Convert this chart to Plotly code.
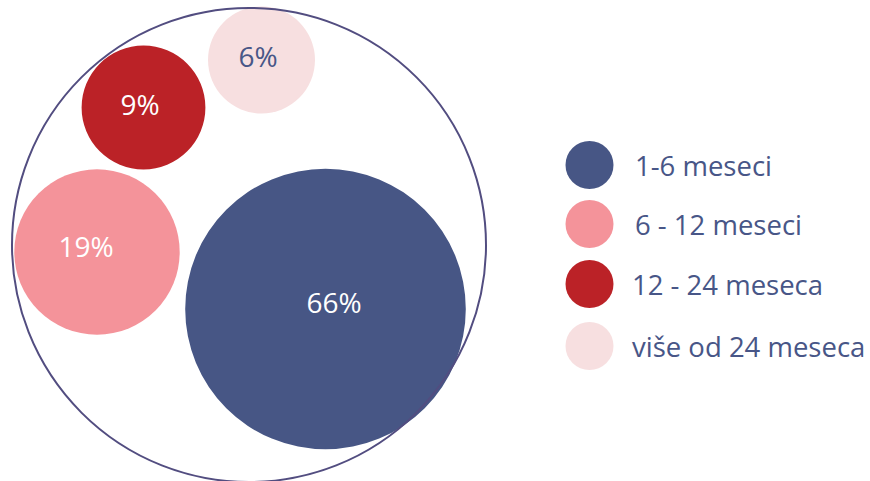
import numpy as np
import plotly.graph_objects as go

# Share of respondents by duration
categories = ["1-6 meseci", "6 - 12 meseci", "12 - 24 meseca", "više od 24 meseca"]
values = [66, 19, 9, 6]
value_labels = [f"{v}%" for v in values]

# Layout (pixel space, y grows downwards)
bubble_x = [325.5, 97, 143.5, 261.5]
bubble_y = [309, 252, 107.5, 60]
label_x = [334, 86, 140, 258]
label_y = [306, 250, 108, 60]
colors = ["#475685", "#f4939a", "#bb2227", "#f7dfe0"]
label_colors = ["#ffffff", "#ffffff", "#ffffff", "#485687"]
text_blue = "#485687"

def bubble_radius(v):
    return 16 + 15.3 * np.sqrt(v)

radii = [bubble_radius(v) for v in values]

outer_cx, outer_cy, outer_r = 249, 245, 237

legend_marker_x = 589.5
legend_text_x = [633, 633, 630, 630]
legend_y = [165, 224, 284, 346]

W, H = 870, 481
FONT = "Open Sans"

fig = go.Figure()

for i in range(len(values)):
    fig.add_shape(
        type="circle", xref="x", yref="y",
        x0=bubble_x[i] - radii[i], x1=bubble_x[i] + radii[i],
        y0=bubble_y[i] - radii[i], y1=bubble_y[i] + radii[i],
        fillcolor=colors[i], line=dict(width=0), layer="below",
    )

# outer ring drawn on top of the bubbles
fig.add_shape(
    type="circle", xref="x", yref="y",
    x0=outer_cx - outer_r, x1=outer_cx + outer_r,
    y0=outer_cy - outer_r, y1=outer_cy + outer_r,
    line=dict(color="#524d80", width=2), fillcolor="rgba(0,0,0,0)", layer="above",
)

fig.add_trace(go.Scatter(
    x=label_x, y=label_y, mode="text", text=value_labels,
    textfont=dict(family=FONT, size=28, color=label_colors),
    hoverinfo="skip", showlegend=False,
))

# legend markers and labels
fig.add_trace(go.Scatter(
    x=[legend_marker_x] * len(categories), y=legend_y, mode="markers",
    marker=dict(size=48, color=colors, line=dict(width=0)),
    hoverinfo="skip", showlegend=False,
))
for i, cat in enumerate(categories):
    fig.add_annotation(
        x=legend_text_x[i], y=legend_y[i], xref="x", yref="y",
        text=cat, showarrow=False, xanchor="left", yanchor="middle",
        font=dict(family=FONT, size=27.5, color=text_blue),
    )

fig.update_xaxes(range=[0, W], visible=False, fixedrange=True)
fig.update_yaxes(range=[H, 0], visible=False, fixedrange=True)
fig.update_layout(
    width=W, height=H, margin=dict(l=0, r=0, t=0, b=0),
    paper_bgcolor="white", plot_bgcolor="white",
)

fig.write_html("out.html")
